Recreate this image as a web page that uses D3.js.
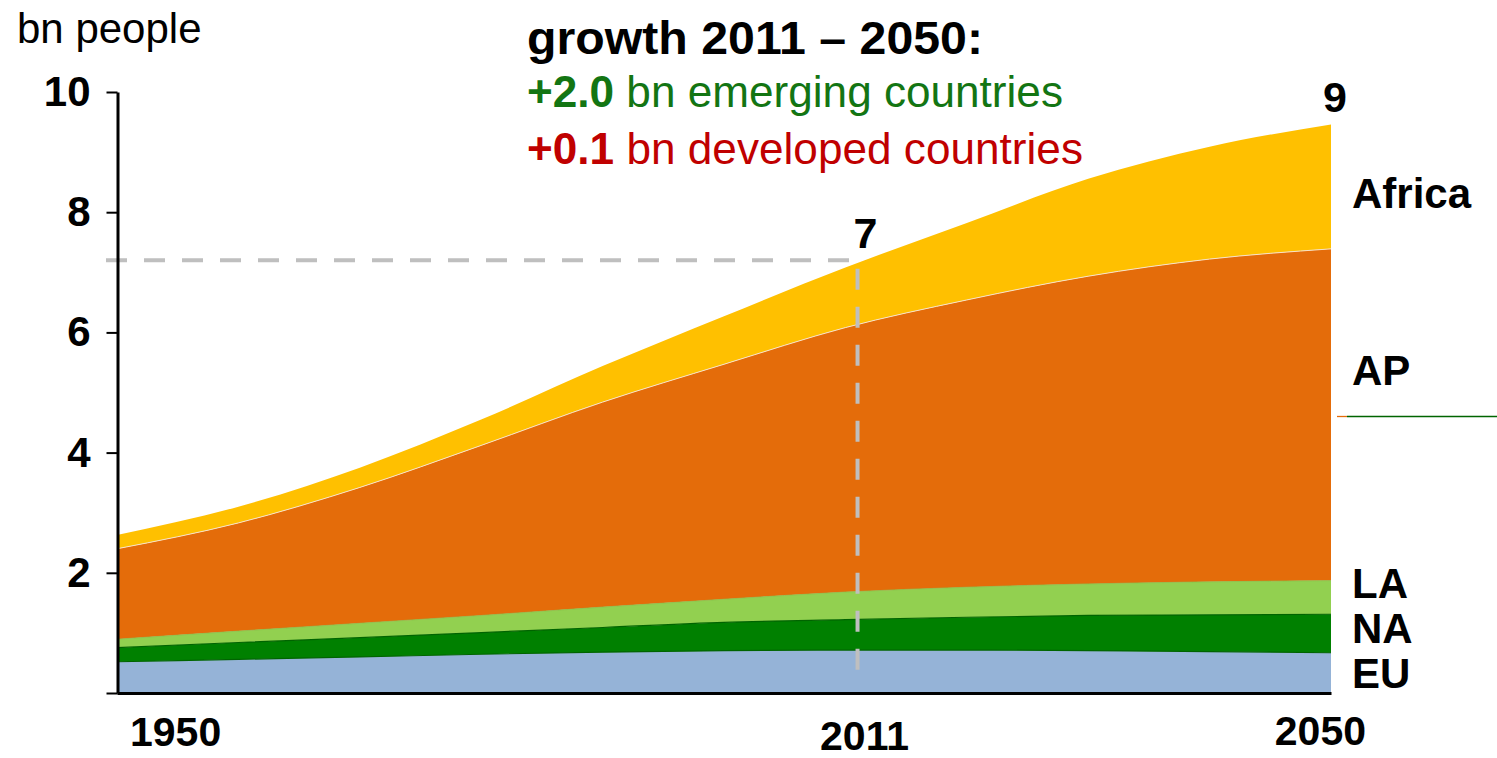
<!DOCTYPE html>
<html>
<head>
<meta charset="utf-8">
<script src="https://cdn.jsdelivr.net/npm/d3@7"></script>
<style>
html, body { margin: 0; padding: 0; background: #ffffff; }
svg { display: block; font-family: "Liberation Sans", Arial, sans-serif; }
</style>
</head>
<body>
<svg id="chart" width="1497" height="758"></svg>
<script>
// ---------------- data (bn people) ----------------
const years  = [1950, 1960, 1970, 1980, 1990, 2000, 2010, 2020, 2030, 2040, 2050];
const regions = ["EU", "NA", "LA", "AP", "Africa"];
const euValues     = [0.52, 0.56, 0.60, 0.645, 0.68, 0.705, 0.715, 0.715, 0.705, 0.69, 0.67];
const naValues     = [0.235, 0.28, 0.32, 0.36, 0.41, 0.47, 0.505, 0.545, 0.585, 0.61, 0.64];
const laValues     = [0.14, 0.19, 0.24, 0.285, 0.34, 0.385, 0.46, 0.50, 0.525, 0.55, 0.56];
const apValues     = [1.505, 1.80, 2.26, 2.83, 3.41, 3.91, 4.40, 4.78, 5.12, 5.37, 5.52];
const africaValues = [0.23, 0.27, 0.33, 0.43, 0.60, 0.80, 1.00, 1.28, 1.62, 1.87, 2.07];

const yTickValues = [0, 2, 4, 6, 8, 10];
const xLabelYears = [1950, 2011, 2050];
const markerYear = 2011;
const markerValue = 7.2;
const markerLabel = "7";
const endLabel = "9";

const unitLabel = "bn people";
const titleText = "growth 2011 \u2013 2050:";
const emergingValue = "+2.0", emergingText = " bn emerging countries";
const developedValue = "+0.1", developedText = " bn developed countries";

// ---------------- styling ----------------
const colors = { EU: "#95B3D7", NA: "#008000", LA: "#92D050", AP: "#E46C0A", Africa: "#FFC000" };
const green = "#137513", red = "#C00000";

const svg = d3.select("#chart");

const x = d3.scaleLinear().domain([1950, 2050]).range([117, 1331]);
const y = d3.scaleLinear().domain([0, 10]).range([693, 92]);

const valueMap = { EU: euValues, NA: naValues, LA: laValues, AP: apValues, Africa: africaValues };
const rows = years.map((yr, i) => {
  const r = { year: yr };
  regions.forEach(k => r[k] = valueMap[k][i]);
  return r;
});
const series = d3.stack().keys(regions)(rows);

const area = d3.area()
  .x(d => x(d.data.year))
  .y0(d => y(d[0]))
  .y1(d => y(d[1]))
  .curve(d3.curveMonotoneX);

const topLine = d3.line()
  .x(d => x(d.data.year))
  .y(d => y(d[1]))
  .curve(d3.curveMonotoneX);

svg.append("g").selectAll("path")
  .data(series).join("path")
  .attr("d", area)
  .attr("fill", d => colors[d.key]);

// thin boundary lines between bands
const edgeStyle = { EU: ["#006400", 1.2], NA: ["#006400", 1.2], LA: ["#86c24a", 0.8], AP: ["#f7e2c8", 1] };
svg.append("g").selectAll("path")
  .data(series.filter(s => edgeStyle[s.key])).join("path")
  .attr("d", topLine)
  .attr("fill", "none")
  .attr("stroke", d => edgeStyle[d.key][0])
  .attr("stroke-width", d => edgeStyle[d.key][1]);

// ---------------- dashed marker ----------------
const mx = x(markerYear), my = y(markerValue);
svg.append("path")
  .attr("d", d3.line()([[106, my], [mx, my], [mx, 685]]))
  .attr("fill", "none")
  .attr("stroke", "#BFBFBF")
  .attr("stroke-width", 4)
  .attr("stroke-dasharray", "21,17");

// ---------------- axes ----------------
const yAxis = d3.axisLeft(y)
  .tickValues(yTickValues)
  .tickFormat(d => d === 0 ? "" : d)
  .tickSize(11)
  .tickSizeOuter(0)
  .tickPadding(16);
const gy = svg.append("g").attr("transform", "translate(117.5,0)").call(yAxis);
gy.select(".domain").attr("stroke", "#000").attr("stroke-width", 3);
gy.selectAll(".tick line").attr("stroke", "#000").attr("stroke-width", 2);
gy.selectAll(".tick text")
  .attr("fill", "#000")
  .style("font-size", "42px")
  .style("font-weight", "bold")
  .style("font-family", "'Liberation Sans', Arial, sans-serif");

const xAxis = d3.axisBottom(x).tickValues([]).tickSizeOuter(0);
const gx = svg.append("g").attr("transform", "translate(0,693)").call(xAxis);
gx.select(".domain").attr("stroke", "#000").attr("stroke-width", 3);

// x labels
const xLabelPos = {
  1950: { dx: 13, y: 746, anchor: "start" },
  2011: { dx: 7, y: 750, anchor: "middle" },
  2050: { dx: 35, y: 745, anchor: "end" }
};
svg.append("g").selectAll("text")
  .data(xLabelYears).join("text")
  .attr("x", d => x(d) + xLabelPos[d].dx)
  .attr("y", d => xLabelPos[d].y)
  .attr("text-anchor", d => xLabelPos[d].anchor)
  .style("font-size", "41px")
  .style("font-weight", "bold")
  .text(d => d);

// unit label
svg.append("text")
  .attr("x", 17).attr("y", 43)
  .style("font-size", "42px")
  .text(unitLabel);

// marker value labels
svg.append("text")
  .attr("x", mx + 8).attr("y", my - 12)
  .attr("text-anchor", "middle")
  .style("font-size", "43px").style("font-weight", "bold")
  .text(markerLabel);

const lastTop = series[series.length - 1][years.length - 1][1];
svg.append("text")
  .attr("x", x(2050) + 4).attr("y", y(lastTop) - 12)
  .attr("text-anchor", "middle")
  .style("font-size", "43px").style("font-weight", "bold")
  .text(endLabel);

// region labels
const regionLabelY = { Africa: 208, AP: 385, LA: 598, NA: 643, EU: 688 };
svg.append("g").selectAll("text")
  .data(regions).join("text")
  .attr("x", 1352)
  .attr("y", d => regionLabelY[d])
  .style("font-size", "42px").style("font-weight", "bold")
  .text(d => d);

// stray rule under AP label (as in the source)
svg.append("line").attr("x1", 1337).attr("x2", 1347).attr("y1", 416.5).attr("y2", 416.5)
  .attr("stroke", colors.AP).attr("stroke-width", 1.3);
svg.append("line").attr("x1", 1347).attr("x2", 1497).attr("y1", 416.5).attr("y2", 416.5)
  .attr("stroke", "#006400").attr("stroke-width", 1.3);

// ---------------- headline ----------------
svg.append("text")
  .attr("x", 527).attr("y", 54)
  .attr("textLength", 456).attr("lengthAdjust", "spacingAndGlyphs")
  .style("font-size", "46px").style("font-weight", "bold")
  .text(titleText);

const l2 = svg.append("text").attr("x", 527).attr("y", 107)
  .attr("textLength", 536).attr("lengthAdjust", "spacingAndGlyphs")
  .style("font-size", "44px").attr("fill", green);
l2.append("tspan").style("font-weight", "bold").text(emergingValue);
l2.append("tspan").text(emergingText);

const l3 = svg.append("text").attr("x", 527).attr("y", 164)
  .attr("textLength", 556).attr("lengthAdjust", "spacingAndGlyphs")
  .style("font-size", "44px").attr("fill", red);
l3.append("tspan").style("font-weight", "bold").text(developedValue);
l3.append("tspan").text(developedText);
</script>
</body>
</html>
